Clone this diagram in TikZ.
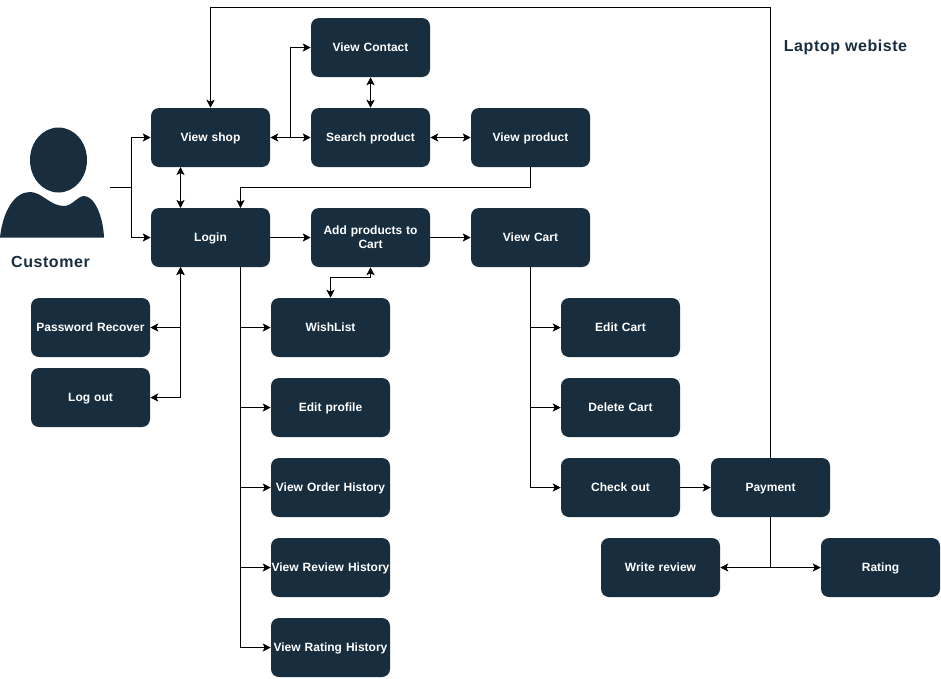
\documentclass[tikz,border=0pt]{standalone}
\usepackage{fontspec}
\setmainfont{Liberation Sans}
\newfontfamily\titlefont[LetterSpace=3.5]{Liberation Sans}
\usetikzlibrary{arrows.meta}
\definecolor{navy}{HTML}{182E3E}
\newcommand{\boxstrut}{\rule[-2.2pt]{0pt}{10pt}}
\tikzset{
    box/.style={fill=navy, rounded corners=6pt, minimum width=89.25pt, minimum height=44.25pt,
        inner sep=0pt, text width=89.25pt, align=center, text=white, font=\fontsize{9}{10.5}\selectfont\bfseries,
        execute at begin node=\boxstrut},
    title/.style={text=navy, font=\titlefont\fontsize{12}{14}\selectfont\bfseries},
    link/.style={draw=black, line width=0.75pt, >={Stealth[length=6pt,width=6pt,inset=1.5pt]}}
}
\begin{document}
\begin{tikzpicture}[x=0.75pt,y=-0.75pt]
    \useasboundingbox (0,0) rectangle (941,678);
    % customer figure
    \fill[navy] (58.5,160) ellipse (28.5 and 32.5);
    \fill[navy] (0,237.5) .. controls (3,210) and (15,192) .. (30,192)
        .. controls (42,192) and (50,206) .. (64,206)
        .. controls (72,206) and (78,196) .. (84,196)
        .. controls (94,196) and (103,215) .. (104,237.5) -- cycle;
    \node[title] (customer) at (50.5,262) {Customer};
    \node[title] (laptop) at (845.5,47) {Laptop webiste};
    \coordinate (customerout) at (110,187.5);
    % boxes
    \node[box] (viewshop) at (210.5,137.5) {View shop};
    \node[box] (contact) at (370.5,47.5) {View Contact};
    \node[box] (search) at (370.5,137.5) {Search product};
    \node[box] (product) at (530.5,137.5) {View product};
    \node[box] (login) at (210.5,237.5) {Login};
    \node[box] (addcart) at (370.5,237.5) {Add products to\\\boxstrut Cart};
    \node[box] (cart) at (530.5,237.5) {View Cart};
    \node[box] (password) at (90.5,327.5) {Password Recover};
    \node[box] (logout) at (90.5,397.5) {Log out};
    \node[box] (wishlist) at (330.5,327.5) {WishList};
    \node[box] (profile) at (330.5,407.5) {Edit profile};
    \node[box] (orders) at (330.5,487.5) {View Order History};
    \node[box] (reviews) at (330.5,567.5) {View Review History};
    \node[box] (ratings) at (330.5,647.5) {View Rating History};
    \node[box] (editcart) at (620.5,327.5) {Edit Cart};
    \node[box] (delcart) at (620.5,407.5) {Delete Cart};
    \node[box] (checkout) at (620.5,487.5) {Check out};
    \node[box] (payment) at (770.5,487.5) {Payment};
    \node[box] (review) at (660.5,567.5) {Write review};
    \node[box] (rating) at (880.5,567.5) {Rating};
    % helper points
    \coordinate (shopdown) at (180.5,167);
    \coordinate (loginup) at (180.5,208);
    \coordinate (loginin) at (240.5,208);
    \coordinate (loginout) at (240.5,267);
    \coordinate (loginback) at (180.5,267);
    \coordinate (custfork) at (131,187.5);
    \coordinate (shopfork) at (290.5,137.5);
    \coordinate (payfork) at (770.5,567.5);
    % connectors
    \draw[link,->] (customerout) -- (custfork) |- (viewshop.west);
    \draw[link,->] (custfork) |- (login.west);
    \draw[link,<->] (shopdown) -- (loginup);
    \draw[link,->] (payment.north) |- (210.5,7.5) -- (viewshop.north);
    \draw[link,<->] (viewshop.east) -- (search.west);
    \draw[link,->] (shopfork) |- (contact.west);
    \draw[link,<->] (contact.south) -- (search.north);
    \draw[link,<->] (search.east) -- (product.west);
    \draw[link,->] (product.south) |- (240.5,187.5) -- (loginin);
    \draw[link,->] (login.east) -- (addcart.west);
    \draw[link,->] (addcart.east) -- (cart.west);
    \draw[link,<->] (addcart.south) |- (330.5,277.5) -- (wishlist.north);
    \foreach \target in {wishlist,profile,orders,reviews,ratings}
        \draw[link,->] (loginout) |- (\target.west);
    \draw[link,<->] (loginback) |- (password.east);
    \draw[link,<->] (loginback) |- (logout.east);
    \foreach \target in {editcart,delcart,checkout}
        \draw[link,->] (cart.south) |- (\target.west);
    \draw[link,->] (checkout.east) -- (payment.west);
    \draw[link] (payment.south) -- (payfork);
    \draw[link,->] (payfork) -- (review.east);
    \draw[link,->] (payfork) -- (rating.west);
\end{tikzpicture}
\end{document}
